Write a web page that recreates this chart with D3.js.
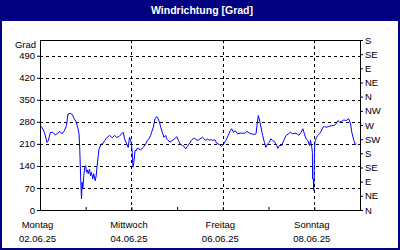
<!DOCTYPE html>
<html>
<head>
<meta charset="utf-8">
<script src="https://cdn.jsdelivr.net/npm/d3@7"></script>
<style>
  body { margin: 0; background: #fff; }
  text { font-family: "Liberation Sans", Arial, sans-serif; }
</style>
</head>
<body>
<div id="chart"></div>
<script>
// Stunden ab 02.06.25 00:00 und Windrichtung in Grad
var hours = [0, 1, 2.3, 3.7, 4.4, 5.4, 6.7, 8, 9.3, 10.4, 11.6, 12.8, 13.9, 14.7, 15.9, 17, 18, 19, 19.8, 20.5,
  20.9, 21.4, 21.8, 22.1, 22.5, 23, 23.5, 24, 24.4, 24.9, 25.3, 26, 26.5, 27, 27.7, 28.2, 29, 29.5, 30, 30.5,
  31, 32, 33.2, 34, 35.3, 36.6, 37.9, 39.1, 40.2, 41.4, 42, 43.2, 43.7, 44.4, 45.5, 46.3, 47, 47.6, 48, 48.4,
  48.8, 49.3, 49.9, 50.6, 51.1, 51.9, 52.8, 54.2, 55.5, 56.3, 57.2, 58.1, 58.6, 59.5, 60.4, 61.3, 62, 62.7, 63.4, 64.2,
  65.1, 66, 66.5, 67.2, 68.3, 69.5, 70.7, 71.8, 72.7, 73.5, 74.8, 75.6, 76.5, 77.4, 78.3, 79.5, 80.9, 81.8, 83, 84,
  85.3, 86.2, 87, 88, 88.8, 89.7, 90.6, 91.8, 92.8, 94.1, 95.3, 96.4, 97.6, 98.8, 99.9, 100.6, 101.6, 102.5, 103.7, 105.1,
  106.4, 107.6, 108.6, 109.9, 111.1, 112.5, 113.4, 113.9, 114.6, 115.1, 116, 116.9, 117.8, 118.6, 119.5, 120.4, 121.2, 122.1, 123.4, 124.3,
  124.8, 125.7, 126.9, 128, 129.2, 130.4, 131.5, 132.7, 133.9, 135, 135.9, 137.1, 138, 138.8, 139.7, 140.6, 141.5, 142, 142.7, 143,
  143.1, 143.5, 143.7, 143.9, 144.1, 144.3, 144.6, 145.2, 145.9, 146.7, 147.6, 148.5, 149.4, 150.2, 151.5, 152.9, 154.3, 155.5, 156.4, 157.3,
  158.5, 159.5, 160.8, 162, 163, 163.7, 164.8, 165.5, 166.2, 166.9];
var degrees = [268, 263, 247, 215, 221, 246, 247, 238, 244, 250, 242, 252, 268, 305, 307, 303, 290, 279, 263, 242,
  189, 93, 35, 88, 67, 109, 136, 141, 120, 127, 115, 130, 109, 120, 99, 115, 93, 109, 141, 168,
  194, 208, 212, 221, 231, 237, 229, 237, 231, 233, 237, 244, 247, 226, 210, 199, 231, 221, 210, 183,
  136, 152, 189, 189, 197, 194, 191, 199, 210, 221, 226, 237, 247, 263, 290, 297, 290, 279, 263, 247,
  231, 237, 226, 221, 216, 221, 226, 233, 221, 210, 205, 202, 194, 202, 210, 221, 229, 224, 221, 226,
  231, 226, 221, 226, 221, 224, 221, 223, 212, 208, 202, 210, 221, 237, 252, 258, 247, 252, 242, 244,
  244, 244, 250, 244, 242, 240, 242, 268, 300, 290, 263, 237, 215, 199, 210, 215, 226, 221, 215, 205,
  196, 205, 205, 221, 237, 242, 247, 242, 244, 242, 237, 247, 258, 242, 226, 221, 205, 221, 199, 183,
  99, 99, 62, 99, 180, 215, 221, 231, 237, 242, 250, 263, 265, 263, 265, 268, 268, 274, 284, 279,
  282, 286, 284, 290, 276, 247, 221, 208, 210];

// Achsenbeschriftungen
var gradTicks = [0, 70, 140, 210, 280, 350, 420, 490];
var compass = ['N', 'NE', 'E', 'SE', 'S', 'SW', 'W', 'NW', 'N', 'NE', 'E', 'SE', 'S'];
var labelDays = ['Montag', 'Mittwoch', 'Freitag', 'Sonntag'];
var labelDates = ['02.06.25', '04.06.25', '06.06.25', '08.06.25'];

var start = new Date(2025, 5, 2);
var end = new Date(2025, 5, 9);
var data = hours.map(function(h, i) {
  return { date: new Date(start.getTime() + h * 3600e3), value: degrees[i] };
});

var margin = { top: 40, right: 40, bottom: 40, left: 40 };
var width = 400 - margin.left - margin.right;
var height = 250 - margin.top - margin.bottom;
var navy = '#000080';

var root = d3.select('#chart')
  .append('svg')
  .attr('width', 400)
  .attr('height', 250);

// Rahmen und Titelleiste
root.append('rect')
  .attr('x', 1).attr('y', 1)
  .attr('width', 398).attr('height', 248)
  .attr('fill', '#fff')
  .attr('stroke', navy)
  .attr('stroke-width', 2);

root.append('rect')
  .attr('x', 0).attr('y', 0)
  .attr('width', 400).attr('height', 21)
  .attr('fill', navy);

root.append('text')
  .attr('x', 202)
  .attr('y', 13.5)
  .attr('text-anchor', 'middle')
  .attr('fill', '#fff')
  .style('font-size', '10.5px')
  .style('font-weight', 'bold')
  .text('Windrichtung [Grad]');

var svg = root.append('g')
  .attr('transform', 'translate(' + margin.left + ',' + margin.top + ')');

var x = d3.scaleTime().domain([start, end]).range([0, width]);
var y = d3.scaleLinear().domain([0, 540]).range([height, 0]);

// Gitterlinien
svg.append('g')
  .selectAll('line')
  .data(gradTicks.slice(1))
  .enter().append('line')
  .attr('x1', 0).attr('x2', width)
  .attr('y1', d => Math.round(y(d)) + 0.5)
  .attr('y2', d => Math.round(y(d)) + 0.5)
  .attr('stroke', '#000')
  .attr('stroke-dasharray', '3,3');

var labelTimes = labelDates.map((d, i) => d3.timeDay.offset(start, i * 2));

svg.append('g')
  .selectAll('line')
  .data(labelTimes.slice(1))
  .enter().append('line')
  .attr('x1', d => Math.round(x(d)) + 0.5)
  .attr('x2', d => Math.round(x(d)) + 0.5)
  .attr('y1', 0).attr('y2', height)
  .attr('stroke', '#000')
  .attr('stroke-dasharray', '3,3');

// obere Rahmenlinie
svg.append('line')
  .attr('x1', 0).attr('x2', width)
  .attr('y1', 0.5).attr('y2', 0.5)
  .attr('stroke', '#000');

// Linie
var line = d3.line()
  .x(d => x(d.date))
  .y(d => y(d.value));

svg.append('path')
  .datum(data)
  .attr('fill', 'none')
  .attr('stroke', '#0000ff')
  .attr('stroke-width', 1)
  .attr('d', line);

// Achsen
var yAxis = svg.append('g')
  .call(d3.axisLeft(y).tickValues(gradTicks).tickSize(3).tickSizeOuter(0).tickPadding(2));

var rAxis = svg.append('g')
  .attr('transform', 'translate(' + width + ',0)')
  .call(d3.axisRight(y).tickValues(d3.range(0, 541, 45))
    .tickFormat((d, i) => compass[i]).tickSize(3).tickSizeOuter(0).tickPadding(2));

var xAxis = svg.append('g')
  .attr('transform', 'translate(0,' + height + ')')
  .call(d3.axisBottom(x).ticks(d3.timeDay.every(1)).tickFormat('').tickSize(-3).tickSizeOuter(0));

svg.selectAll('.domain, .tick line').attr('stroke', '#000');
svg.selectAll('.tick text')
  .attr('fill', '#000')
  .style('font-family', '"Liberation Sans", Arial, sans-serif')
  .style('font-size', '9.5px');

svg.append('text')
  .attr('x', -4)
  .attr('y', 8)
  .attr('text-anchor', 'end')
  .style('font-size', '9.5px')
  .text('Grad');

// Datumsbeschriftung
var xl = svg.append('g')
  .selectAll('g')
  .data(labelTimes)
  .enter().append('g')
  .attr('transform', d => 'translate(' + (x(d) - 2.5) + ',' + height + ')');

xl.append('text')
  .attr('y', 18)
  .attr('text-anchor', 'middle')
  .style('font-size', '9.5px')
  .text((d, i) => labelDays[i]);

xl.append('text')
  .attr('y', 32)
  .attr('text-anchor', 'middle')
  .style('font-size', '9.5px')
  .text((d, i) => labelDates[i]);
</script>
</body>
</html>
